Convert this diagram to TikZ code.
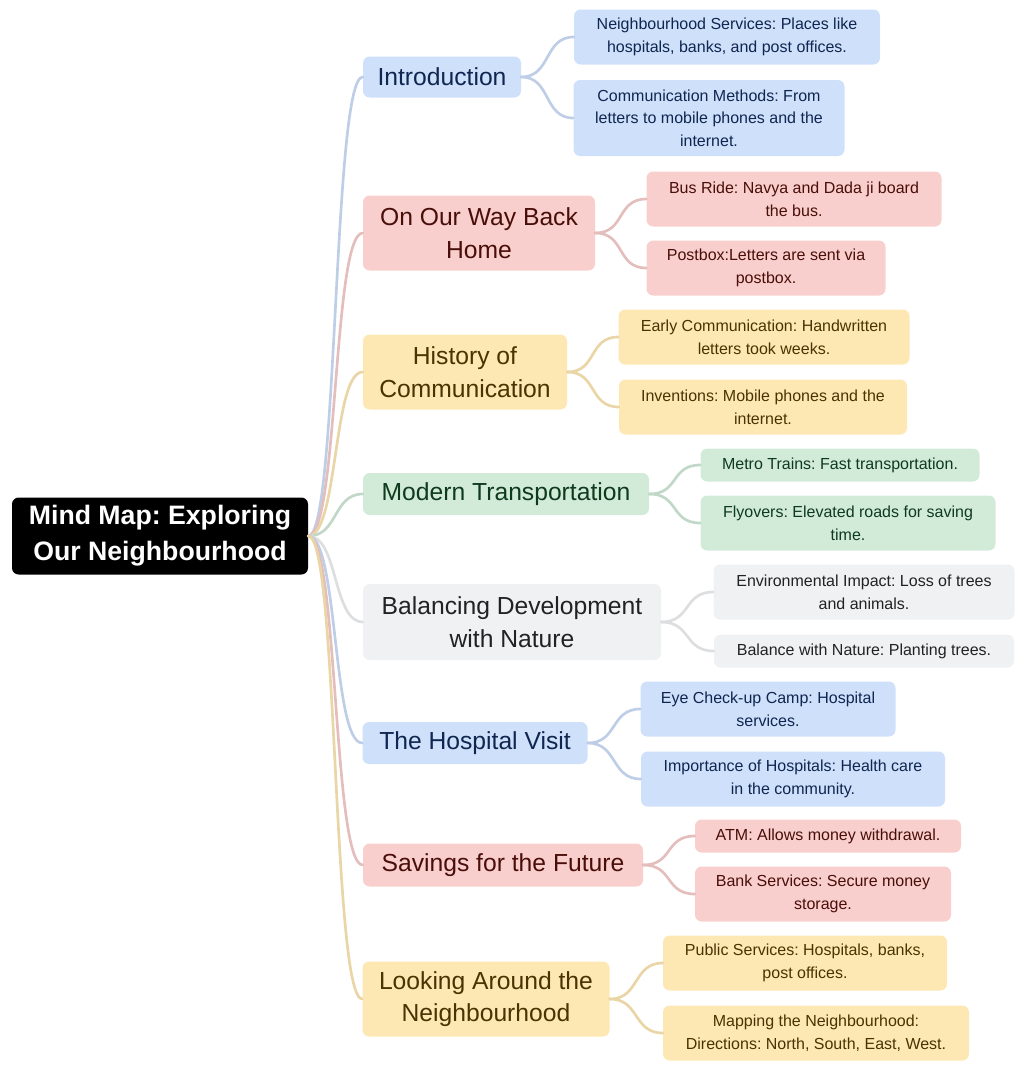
\documentclass[tikz,border=0pt]{standalone}
\usepackage{fontspec}
\setmainfont{Liberation Sans}
\usetikzlibrary{calc}
\definecolor{bluefill}{HTML}{CFE0FB}
\definecolor{redfill}{HTML}{F8CFCC}
\definecolor{yelfill}{HTML}{FDE8B4}
\definecolor{grnfill}{HTML}{D2EBD9}
\definecolor{gryfill}{HTML}{F0F1F2}
\definecolor{bluetxt}{HTML}{0F2650}
\definecolor{redtxt}{HTML}{4A0E0A}
\definecolor{yeltxt}{HTML}{4A3300}
\definecolor{grntxt}{HTML}{0E3A1E}
\definecolor{grytxt}{HTML}{222222}
\newcommand\pw[1]{#1*0.75pt}
\frenchspacing
\tikzset{
  box/.style={rounded corners=5pt, inner sep=0pt, align=center},
  main/.style={box, font=\fontsize{18.5}{24.5}\selectfont},
  leaf/.style={box, font=\fontsize{12}{17}\selectfont},
  link/.style={line width=2pt, line cap=round},
}
\begin{document}
\begin{tikzpicture}[x=0.75pt,y=-0.75pt]
\useasboundingbox (0,0) rectangle (1024,1071);
\node[box, fill=black, text=white, font=\bfseries\fontsize{20}{27}\selectfont,
      minimum width=\pw{296}, minimum height=\pw{77}] (root) at (160,536)
      {Mind Map: Exploring\\Our Neighbourhood};
% main branches
\node[main, fill=bluefill, text=bluetxt, minimum width=\pw{158}, minimum height=\pw{41}] (b1) at (442,77) {Introduction};
\node[main, fill=redfill, text=redtxt, minimum width=\pw{232}, minimum height=\pw{75}] (b2) at (479,233) {On Our Way Back\\Home};
\node[main, fill=yelfill, text=yeltxt, minimum width=\pw{204}, minimum height=\pw{75}] (b3) at (465,372) {History of\\Communication};
\node[main, fill=grnfill, text=grntxt, minimum width=\pw{286}, minimum height=\pw{42}] (b4) at (506,494) {Modern Transportation};
\node[main, fill=gryfill, text=grytxt, minimum width=\pw{298}, minimum height=\pw{76}] (b5) at (512,622) {Balancing Development\\with Nature};
\node[main, fill=bluefill, text=bluetxt, minimum width=\pw{225}, minimum height=\pw{42}] (b6) at (475,743) {The Hospital Visit};
\node[main, fill=redfill, text=redtxt, minimum width=\pw{280}, minimum height=\pw{43}] (b7) at (503,865) {Savings for the Future};
\node[main, fill=yelfill, text=yeltxt, minimum width=\pw{247}, minimum height=\pw{75}] (b8) at (486,999) {Looking Around the\\Neighbourhood};
% leaves
\node[leaf, fill=bluefill, text=bluetxt, minimum width=\pw{306}, minimum height=\pw{55}] (l1a) at (727,37) {Neighbourhood Services: Places like\\hospitals, banks, and post offices.};
\node[leaf, fill=bluefill, text=bluetxt, minimum width=\pw{271}, minimum height=\pw{76}] (l1b) at (709,118) {Communication Methods: From\\letters to mobile phones and the\\internet.};
\node[leaf, fill=redfill, text=redtxt, minimum width=\pw{295}, minimum height=\pw{55}] (l2a) at (794,199) {Bus Ride: Navya and Dada ji board\\the bus.};
\node[leaf, fill=redfill, text=redtxt, minimum width=\pw{239}, minimum height=\pw{55}] (l2b) at (766,268) {Postbox:Letters are sent via\\postbox.};
\node[leaf, fill=yelfill, text=yeltxt, minimum width=\pw{291}, minimum height=\pw{55}] (l3a) at (764,337) {Early Communication: Handwritten\\letters took weeks.};
\node[leaf, fill=yelfill, text=yeltxt, minimum width=\pw{288}, minimum height=\pw{55}] (l3b) at (763,407) {Inventions: Mobile phones and the\\internet.};
\node[leaf, fill=grnfill, text=grntxt, minimum width=\pw{279}, minimum height=\pw{33}] (l4a) at (840,465) {Metro Trains: Fast transportation.};
\node[leaf, fill=grnfill, text=grntxt, minimum width=\pw{295}, minimum height=\pw{55}] (l4b) at (848,523) {Flyovers: Elevated roads for saving\\time.};
\node[leaf, fill=gryfill, text=grytxt, minimum width=\pw{301}, minimum height=\pw{55}] (l5a) at (864,592) {Environmental Impact: Loss of trees\\and animals.};
\node[leaf, fill=gryfill, text=grytxt, minimum width=\pw{300}, minimum height=\pw{33}] (l5b) at (864,651) {Balance with Nature: Planting trees.};
\node[leaf, fill=bluefill, text=bluetxt, minimum width=\pw{255}, minimum height=\pw{55}] (l6a) at (768,709) {Eye Check-up Camp: Hospital\\services.};
\node[leaf, fill=bluefill, text=bluetxt, minimum width=\pw{304}, minimum height=\pw{55}] (l6b) at (793,779) {Importance of Hospitals: Health care\\in the community.};
\node[leaf, fill=redfill, text=redtxt, minimum width=\pw{266}, minimum height=\pw{33}] (l7a) at (828,836) {ATM: Allows money withdrawal.};
\node[leaf, fill=redfill, text=redtxt, minimum width=\pw{256}, minimum height=\pw{55}] (l7b) at (823,894) {Bank Services: Secure money\\storage.};
\node[leaf, fill=yelfill, text=yeltxt, minimum width=\pw{284}, minimum height=\pw{55}] (l8a) at (805,963) {Public Services: Hospitals, banks,\\post offices.};
\node[leaf, fill=yelfill, text=yeltxt, minimum width=\pw{306}, minimum height=\pw{55}] (l8b) at (816,1033) {Mapping the Neighbourhood:\\Directions: North, South, East, West.};
% connectors
\foreach \b/\c in {1/bluefill,2/redfill,3/yelfill,4/grnfill,5/gryfill,6/bluefill,7/redfill,8/yelfill}{
  \draw[link, \c!92!black] (root.east) .. controls ($(root.east)+(30,0)$) and ($(b\b.west)+(-30,0)$) .. (b\b.west);
  \foreach \l in {a,b}{
    \draw[link, \c!92!black] (b\b.east) .. controls ($(b\b.east)+(30,0)$) and ($(l\b\l.west)+(-30,0)$) .. (l\b\l.west);
  }
}
\end{tikzpicture}
\end{document}
